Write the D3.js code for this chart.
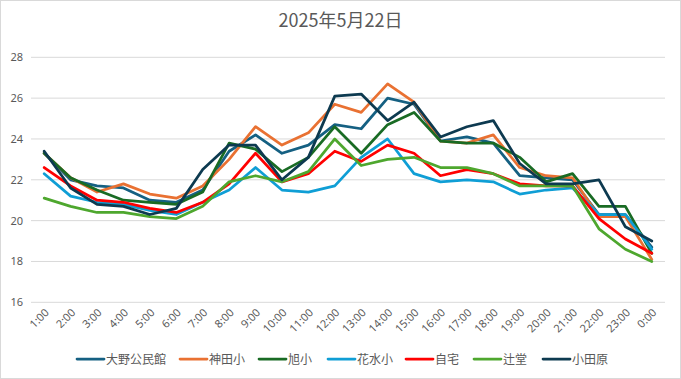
<!DOCTYPE html>
<html><head><meta charset="utf-8">
<script src="https://cdn.jsdelivr.net/npm/d3@7"></script>
<style>
html,body{margin:0;padding:0;background:#fff;}
svg text{font-family:"Noto Sans CJK JP","Noto Sans",sans-serif;fill:#595959;}
</style></head>
<body><svg id="c" width="681" height="379"></svg>
<script>
const hours = ["1:00","2:00","3:00","4:00","5:00","6:00","7:00","8:00","9:00","10:00","11:00","12:00","13:00","14:00","15:00","16:00","17:00","18:00","19:00","20:00","21:00","22:00","23:00","0:00"];
const seriesNames = ["大野公民館","神田小","旭小","花水小","自宅","辻堂","小田原"];
const seriesColors = ["#156082","#E97132","#196B24","#0F9ED5","#FF0000","#4EA72E","#0d3a50"];
const oono   = [23.3,22.0,21.7,21.6,21.0,20.9,21.5,23.4,24.2,23.3,23.7,24.7,24.5,26.0,25.7,23.9,24.1,23.8,22.2,22.1,22.0,20.3,20.3,18.7];
const kanda  = [23.3,22.1,21.4,21.8,21.3,21.1,21.7,23.0,24.6,23.7,24.3,25.7,25.3,26.7,25.8,23.9,23.8,24.2,22.6,22.2,22.1,20.2,20.2,18.1];
const asahi  = [23.3,22.1,21.5,21.0,20.9,20.8,21.4,23.8,23.5,22.4,23.1,24.6,23.3,24.7,25.3,23.9,23.8,23.8,23.1,21.9,22.3,20.7,20.7,18.4];
const hanamizu=[22.3,21.2,20.9,20.8,20.5,20.3,20.9,21.5,22.6,21.5,21.4,21.7,23.1,24.0,22.3,21.9,22.0,21.9,21.3,21.5,21.6,20.3,20.3,18.6];
const jitaku = [22.6,21.7,21.0,20.9,20.6,20.4,20.9,21.8,23.3,21.9,22.3,23.4,22.9,23.7,23.3,22.2,22.5,22.3,21.8,21.7,21.7,20.1,19.1,18.4];
const tsujido= [21.1,20.7,20.4,20.4,20.2,20.1,20.7,21.9,22.2,21.9,22.4,24.0,22.7,23.0,23.1,22.6,22.6,22.3,21.7,21.7,21.7,19.6,18.6,18.0];
const odawara= [23.4,21.6,20.8,20.7,20.3,20.6,22.5,23.7,23.7,22.0,23.1,26.1,26.2,24.9,25.8,24.1,24.6,24.9,22.8,21.8,21.8,22.0,19.7,19.0];
const yTicks = [16,18,20,22,24,26,28];
const title = "2025年5月22日";
const seriesValues = [oono,kanda,asahi,hanamizu,jitaku,tsujido,odawara];

const svg = d3.select("#c");
svg.append("rect").attr("x",0.5).attr("y",0.5).attr("width",680).attr("height",378)
  .attr("fill","#fff").attr("stroke","#d9d9d9");

const pL=31, pR=665, pT=57.3, pB=302.3;
const x = d3.scalePoint().domain(hours).range([pL,pR]).padding(0.5);
const y = d3.scaleLinear().domain([16,28]).range([pB,pT]);

svg.append("text").attr("x",340.5).attr("y",27).attr("text-anchor","middle")
  .attr("font-size",18).text(title);

// gridlines
svg.append("g").selectAll("line").data(yTicks).join("line")
  .attr("x1",pL).attr("x2",pR).attr("y1",d=>y(d)).attr("y2",d=>y(d))
  .attr("stroke","#d9d9d9").attr("stroke-width",1);

// y axis labels
const yAxis = d3.axisLeft(y).tickValues(yTicks).tickSize(0).tickPadding(0).tickFormat(d3.format("d"));
const gy = svg.append("g").attr("transform",`translate(${pL-8},0)`).call(yAxis);
gy.select(".domain").remove();
gy.selectAll("text").attr("font-size",11).style("font-family","'Noto Sans','DejaVu Sans',sans-serif").attr("fill","#595959");

// x axis labels
const xAxis = d3.axisBottom(x).tickSize(0).tickPadding(0);
const gx = svg.append("g").attr("transform",`translate(0,${pB})`).call(xAxis);
gx.select(".domain").remove();
gx.selectAll("text").attr("font-size",11).style("font-family","'Noto Sans','DejaVu Sans',sans-serif").attr("fill","#595959")
  .attr("text-anchor","end").attr("dy",null).attr("y",0)
  .attr("transform","translate(5,11) rotate(-45)");

// lines
const line = d3.line().x((d,i)=>x(hours[i])).y(d=>y(d));
svg.append("g").selectAll("path").data(seriesValues).join("path")
  .attr("d",line).attr("fill","none")
  .attr("stroke",(d,i)=>seriesColors[i]).attr("stroke-width",2.75)
  .attr("stroke-linejoin","round").attr("stroke-linecap","round");

// legend
const legX = [77,180,259,328,406,474,543];
const lg = svg.append("g");
seriesNames.forEach((n,i)=>{
  lg.append("line").attr("x1",legX[i]).attr("x2",legX[i]+27).attr("y1",359).attr("y2",359)
    .attr("stroke",seriesColors[i]).attr("stroke-width",2.75).attr("stroke-linecap","round");
  lg.append("text").attr("x",legX[i]+29).attr("y",363.5).attr("font-size",12).text(n);
});
</script></body></html>
